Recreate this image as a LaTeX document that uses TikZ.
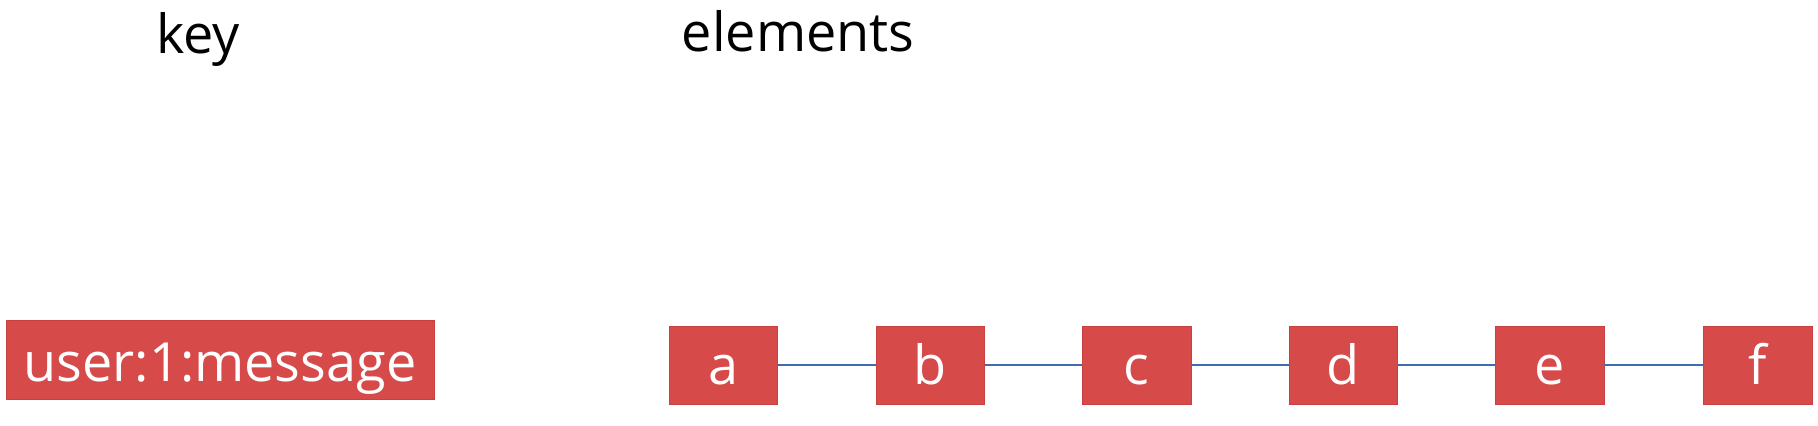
\documentclass[tikz,border=0pt]{standalone}
\usepackage{fontspec}
\setmainfont{Open Sans}
\definecolor{boxred}{RGB}{214,74,74}
\definecolor{boxedge}{RGB}{200,64,64}
\definecolor{linkblue}{RGB}{62,108,176}
\tikzset{
  title/.style={anchor=base, inner sep=0pt, font=\fontsize{27}{32}\selectfont, text=black},
  keybox/.style={fill=boxred, draw=boxedge, line width=0.4pt, text=white, inner sep=0pt,
    minimum width=214pt, minimum height=39.3pt, text height=21.7pt, text depth=0pt,
    font=\fontsize{27}{32}\selectfont},
  elembox/.style={fill=boxred, draw=boxedge, line width=0.4pt, text=white, inner sep=0pt,
    minimum width=54.25pt, minimum height=38.8pt, text height=19.5pt, text depth=0pt,
    font=\fontsize{27}{32}\selectfont},
  link/.style={draw=linkblue, line width=1pt}
}
\begin{document}
\begin{tikzpicture}[x=0.5pt, y=-0.5pt]
\useasboundingbox (0,0) rectangle (1818,426);
\node[title] (keylbl) at (198.3,53.3) {key};
\node[title] (elemlbl) at (798.3,52) {elements};
\node[keybox] (key) at (220,360) {user:1:message};
\node[elembox] (a) at (723.3,365.5) {a};
\node[elembox] (b) at (930.2,365.5) {b};
\node[elembox] (c) at (1136.7,365.5) {c};
\node[elembox] (d) at (1343.3,365.5) {d};
\node[elembox] (e) at (1549.8,365.5) {e};
\node[elembox] (f) at (1757.8,365.5) {f};
\draw[link] (a.east) -- (b.west);
\draw[link] (b.east) -- (c.west);
\draw[link] (c.east) -- (d.west);
\draw[link] (d.east) -- (e.west);
\draw[link] (e.east) -- (f.west);
\end{tikzpicture}
\end{document}
